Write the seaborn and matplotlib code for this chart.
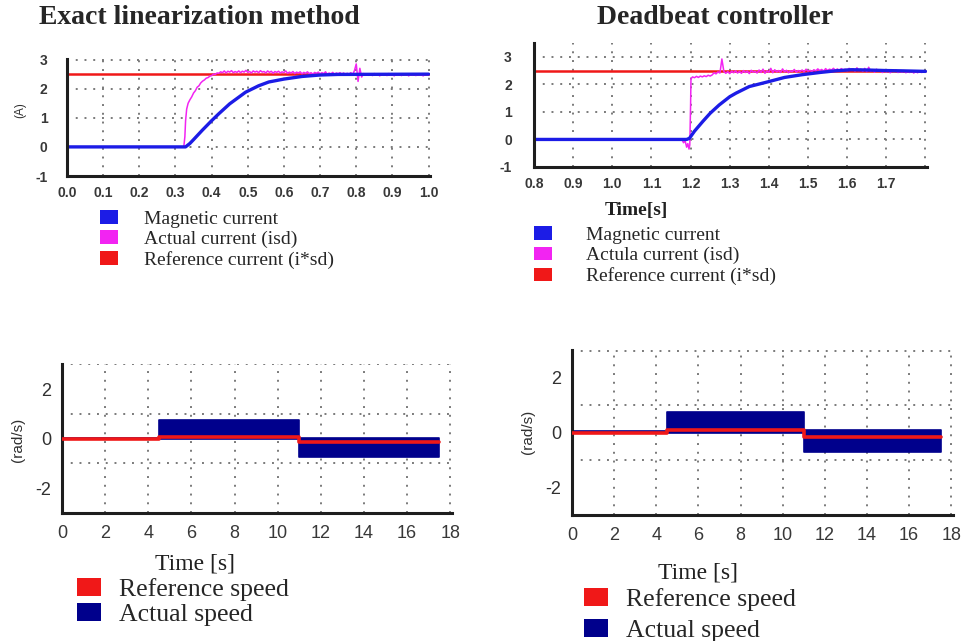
import numpy as np
import pandas as pd
import matplotlib
matplotlib.use("Agg")
import matplotlib.pyplot as plt
from matplotlib.patches import Patch
from matplotlib.font_manager import FontProperties
import seaborn as sns

# ---------------- data ----------------
# Top-left: Exact linearization method (currents, A)
tl_ref_t = [0.0, 1.0]
tl_ref = [2.5, 2.5]
tl_mag_t = [0.0, 0.328, 0.34, 0.35, 0.374, 0.40, 0.42, 0.45, 0.494, 0.53, 0.558,
            0.60, 0.65, 0.70, 0.75, 1.0]
tl_mag = [0.0, 0.0, 0.12, 0.25, 0.57, 0.90, 1.14, 1.48, 1.88, 2.10, 2.23,
          2.33, 2.42, 2.47, 2.49, 2.50]
tl_isd_rise_t = [0.0, 0.323, 0.326, 0.328, 0.331, 0.335, 0.34, 0.345, 0.35, 0.355,
                 0.36, 0.365, 0.37, 0.375, 0.38, 0.385, 0.39, 0.395, 0.40, 0.405,
                 0.41, 0.415]
tl_isd_rise = [0.0, 0.0, 0.35, 0.9, 1.3, 1.5, 1.62, 1.72, 1.85, 1.93,
               2.05, 2.10, 2.20, 2.26, 2.30, 2.36, 2.38, 2.43, 2.45, 2.50,
               2.49, 2.54]
tl_isd_noise_start, tl_isd_noise_end = 0.42, 1.0
tl_isd_noise = [2.53, 2.58, 2.55, 2.61, 2.54, 2.60, 2.57, 2.62, 2.55, 2.59, 2.56,
                2.61, 2.55, 2.60, 2.57, 2.63, 2.56, 2.59, 2.54, 2.61, 2.57, 2.60,
                2.55, 2.62, 2.57, 2.59, 2.54, 2.61, 2.56, 2.60, 2.53, 2.59, 2.56,
                2.60, 2.54, 2.58, 2.55, 2.61, 2.53, 2.57, 2.54, 2.59, 2.52, 2.57,
                2.54, 2.58, 2.51, 2.56, 2.53, 2.58, 2.52, 2.55, 2.50, 2.56, 2.53,
                2.57, 2.51, 2.55, 2.52, 2.58, 2.50, 2.54, 2.51, 2.56, 2.49, 2.54,
                2.51, 2.55, 2.50, 2.54, 2.49, 2.53, 2.50, 2.55, 2.48, 2.62, 2.85,
                2.25, 2.70, 2.40, 2.52, 2.47, 2.51, 2.46, 2.50, 2.45, 2.52, 2.47,
                2.50, 2.44, 2.51, 2.46, 2.50, 2.45, 2.52, 2.46, 2.49, 2.44, 2.51,
                2.46, 2.50, 2.45, 2.51, 2.47, 2.50, 2.44, 2.49, 2.46, 2.51, 2.45,
                2.50, 2.46, 2.49, 2.44, 2.50, 2.47, 2.49]

# Top-right: Deadbeat controller
tr_ref_t = [0.8, 1.8]
tr_ref = [2.5, 2.5]
tr_mag_t = [0.8, 1.19, 1.197, 1.21, 1.231, 1.25, 1.273, 1.30, 1.316, 1.35, 1.40,
            1.44, 1.485, 1.53, 1.57, 1.61, 1.65, 1.70, 1.74, 1.80]
tr_mag = [0.0, 0.0, 0.04, 0.30, 0.65, 0.95, 1.25, 1.55, 1.68, 1.92, 2.10,
          2.25, 2.35, 2.43, 2.49, 2.53, 2.52, 2.50, 2.49, 2.47]
tr_isd_rise_t = [0.8, 1.178, 1.182, 1.186, 1.19, 1.193, 1.196, 1.198, 1.200, 1.201]
tr_isd_rise = [0.0, 0.0, -0.12, -0.05, -0.28, -0.15, -0.35, -0.20, 1.20, 2.20]
tr_isd_noise_start, tr_isd_noise_end = 1.205, 1.80
tr_isd_noise = [2.27, 2.24, 2.29, 2.25, 2.30, 2.27, 2.31, 2.28, 2.33, 2.30, 2.34,
                2.42, 2.38, 2.45, 2.41, 2.92, 2.47, 2.40, 2.46, 2.39, 2.48, 2.42,
                2.49, 2.41, 2.47, 2.40, 2.50, 2.43, 2.48, 2.39, 2.51, 2.44, 2.47,
                2.41, 2.52, 2.43, 2.55, 2.40, 2.49, 2.44, 2.58, 2.42, 2.53, 2.45,
                2.50, 2.43, 2.56, 2.45, 2.51, 2.42, 2.49, 2.46, 2.54, 2.44, 2.50,
                2.47, 2.52, 2.45, 2.55, 2.48, 2.51, 2.46, 2.53, 2.49, 2.56, 2.50,
                2.54, 2.48, 2.57, 2.50, 2.55, 2.52, 2.58, 2.51, 2.56, 2.50, 2.57,
                2.52, 2.55, 2.49, 2.58, 2.51, 2.56, 2.48, 2.60, 2.50, 2.55, 2.47,
                2.58, 2.46, 2.62, 2.48, 2.53, 2.44, 2.55, 2.47, 2.52, 2.43, 2.50,
                2.45, 2.51, 2.42, 2.49, 2.46, 2.52, 2.43, 2.48, 2.44, 2.50, 2.42,
                2.47, 2.43, 2.49, 2.41, 2.46, 2.42, 2.48, 2.43, 2.45, 2.44]

# Bottom: speeds (rad/s), piecewise segments
speed_steps_t = [0.0, 4.5, 11.0, 17.5]
bl_ref = [0.0, 0.07, -0.13]
bl_upper = [0.05, 0.74, 0.05]
bl_lower = [-0.02, 0.0, -0.74]
br_ref = [0.0, 0.10, -0.15]
br_upper = [0.05, 0.76, 0.10]
br_lower = [-0.02, -0.02, -0.71]

current_labels_l = ["Magnetic current", "Actual current (isd)", "Reference current (i*sd)"]
current_labels_r = ["Magnetic current", "Actula current (isd)", "Reference current (i*sd)"]
speed_labels = ["Reference speed", "Actual speed"]
tl_xticks = [round(0.1 * i, 1) for i in range(11)]
tr_xticks = [round(0.8 + 0.1 * i, 1) for i in range(11)]
tr_xticklabels = [f"{v:.1f}" for v in tr_xticks[:-1]] + [""]
sp_xticks = list(range(0, 19, 2))
sp_ylabels = [-2, 0, 2]

# ---------------- style ----------------
sns.set_style("white")
plt.rcParams['font.family'] = ['Liberation Sans', 'DejaVu Sans']

C_RED = "#f01818"
C_BLUE = "#1c1ce6"
C_MAG = "#f224f2"
C_NAVY = "#00008c"
GRID_C = "#7a7a7a"

W, H = 962, 641
fig = plt.figure(figsize=(W / 100, H / 100), dpi=100)


def px_axes(l, t, r, b):
    return fig.add_axes([l / W, 1 - b / H, (r - l) / W, (b - t) / H])


def ftext(x, y, s, **kw):
    fig.text(x / W, 1 - y / H, s, **kw)


def style_axes(ax, tick_size, bold, ypad, xpad):
    for s in ["top", "right"]:
        ax.spines[s].set_visible(False)
    for s in ["left", "bottom"]:
        ax.spines[s].set_linewidth(2.2)
        ax.spines[s].set_color("#1e1e1e")
    ax.tick_params(axis="x", which="both", direction="inout", length=7, width=1.6,
                   color="#1e1e1e", pad=xpad)
    ax.tick_params(axis="y", which="both", direction="out", length=5, width=1.6,
                   color="#1e1e1e", pad=ypad)
    for lab in ax.get_xticklabels() + ax.get_yticklabels():
        lab.set_fontsize(tick_size)
        lab.set_fontweight("bold" if bold else "normal")
        lab.set_color("#383838")
    ax.grid(which="major", linestyle=(0, (1, 3.5)), color=GRID_C, linewidth=1.4)
    ax.set_axisbelow(True)
    ax.set_xlabel("")
    ax.set_ylabel("")
    ax.set_facecolor("none")


# ---------------- top-left ----------------
ax1 = px_axes(67, 59, 430, 176)
tl_isd_t = np.linspace(tl_isd_noise_start, tl_isd_noise_end, len(tl_isd_noise))
tl_isd_all_t = list(tl_isd_rise_t) + list(tl_isd_t)
tl_isd_all = list(tl_isd_rise) + list(tl_isd_noise)
sns.lineplot(x=tl_ref_t, y=tl_ref, ax=ax1, color=C_RED, lw=1.8, estimator=None)
sns.lineplot(x=tl_isd_all_t, y=tl_isd_all, ax=ax1, color=C_MAG, lw=1.1,
             estimator=None, sort=False)
sns.lineplot(x=tl_mag_t, y=tl_mag, ax=ax1, color=C_BLUE, lw=2.4, estimator=None)
ax1.set_xlim(0, 1.004)
ax1.set_ylim(-1, 3.02)
ax1.set_xticks(tl_xticks, [f"{v:.1f}" for v in tl_xticks])
ax1.set_xticks([0.05 + 0.1 * i for i in range(10)], minor=True)
ax1.set_yticks([-1, 0, 1, 2, 3], ["-1", "0", "1", "2", "3"])
ax1.set_yticks([-0.5, 0.5, 1.5, 2.5], minor=True)
style_axes(ax1, 10, True, ypad=9, xpad=4)

# ---------------- top-right ----------------
ax2 = px_axes(534, 43, 927, 167)
tr_isd_t = np.linspace(tr_isd_noise_start, tr_isd_noise_end, len(tr_isd_noise))
tr_isd_all_t = list(tr_isd_rise_t) + list(tr_isd_t)
tr_isd_all = list(tr_isd_rise) + list(tr_isd_noise)
sns.lineplot(x=tr_ref_t, y=tr_ref, ax=ax2, color=C_RED, lw=1.8, estimator=None)
sns.lineplot(x=tr_isd_all_t, y=tr_isd_all, ax=ax2, color=C_MAG, lw=1.1,
             estimator=None, sort=False)
sns.lineplot(x=tr_mag_t, y=tr_mag, ax=ax2, color=C_BLUE, lw=2.4, estimator=None)
ax2.set_xlim(0.8, 1.804)
ax2.set_ylim(-1, 3.5)
ax2.set_xticks(tr_xticks, tr_xticklabels)
ax2.set_xticks([0.85 + 0.1 * i for i in range(10)], minor=True)
ax2.set_yticks([-1, 0, 1, 2, 3], ["-1", "0", "1", "2", "3"])
ax2.set_yticks([-0.5, 0.5, 1.5, 2.5, 3.5], minor=True)
style_axes(ax2, 10, True, ypad=11, xpad=4)


# ---------------- bottom speed plots ----------------
def speed_plot(ax, ref, upper, lower):
    t = speed_steps_t
    ax.fill_between(t, list(lower) + [lower[-1]], list(upper) + [upper[-1]],
                    step="post", color=C_NAVY, lw=1.2, edgecolor=C_NAVY, zorder=2)
    xs = np.repeat(t, 2)[1:-1]
    ys = np.repeat(ref, 2)
    sns.lineplot(x=xs, y=ys, ax=ax, color=C_RED, lw=2.6, estimator=None, sort=False,
                 zorder=3)
    ax.set_xlim(0, 18.08)
    ax.set_ylim(-3, 3.02)
    ax.set_xticks(sp_xticks, [str(v) for v in sp_xticks])
    ax.set_xticks(list(range(1, 18, 2)), minor=True)
    ax.set_yticks([-3, -1, 1, 3], ["", "", "", ""])
    ax.set_yticks(sp_ylabels, [str(v) for v in sp_ylabels], minor=True)
    style_axes(ax, 13, False, ypad=3, xpad=5)
    for lab in ax.get_yticklabels(minor=True):
        lab.set_fontsize(13)
        lab.set_color("#303030")


ax3 = px_axes(62, 364, 452, 513)
speed_plot(ax3, bl_ref, bl_upper, bl_lower)
ax4 = px_axes(572, 350, 953, 515)
speed_plot(ax4, br_ref, br_upper, br_lower)

# ---------------- texts ----------------
serif = ['Liberation Serif', 'DejaVu Serif']
ftext(199, 17, "Exact linearization method", ha="center", va="center",
      family=serif, weight="bold", fontsize=20)
ftext(715, 17, "Deadbeat controller", ha="center", va="center",
      family=serif, weight="bold", fontsize=20)
ftext(20, 110, "(A)", rotation=90, ha="center", va="center", fontsize=8.5,
      color="#303030")
ftext(18, 440, "(rad/s)", rotation=90, ha="center", va="center", fontsize=11,
      color="#303030")
ftext(528, 432, "(rad/s)", rotation=90, ha="center", va="center", fontsize=11,
      color="#303030")
ftext(636, 210, "Time[s]", ha="center", va="center", family=serif, weight="bold",
      fontsize=14, color="#202020")
ftext(195, 564, "Time [s]", ha="center", va="center", family=serif, fontsize=17,
      color="#202020")
ftext(698, 573, "Time [s]", ha="center", va="center", family=serif, fontsize=17,
      color="#202020")


def make_legend(x, y, labels, colors, size, spacing, pad):
    handles = [Patch(facecolor=c, edgecolor="none") for c in colors]
    fig.legend(handles, labels, loc="upper left", bbox_to_anchor=(x / W, 1 - y / H),
               frameon=False, handlelength=0.95, handleheight=0.7,
               handletextpad=pad, labelspacing=spacing, borderpad=0,
               borderaxespad=0, prop=FontProperties(family=serif, size=size))


make_legend(100, 210, current_labels_l, [C_BLUE, C_MAG, C_RED], 14, 0.14, 1.3)
make_legend(534, 226, current_labels_r, [C_BLUE, C_MAG, C_RED], 14, 0.16, 1.7)
make_legend(77, 578, speed_labels, [C_RED, C_NAVY], 18.5, 0.06, 0.7)
make_legend(584, 588, speed_labels, [C_RED, C_NAVY], 18.5, 0.3, 0.7)

fig.savefig("out.png", dpi=100)
